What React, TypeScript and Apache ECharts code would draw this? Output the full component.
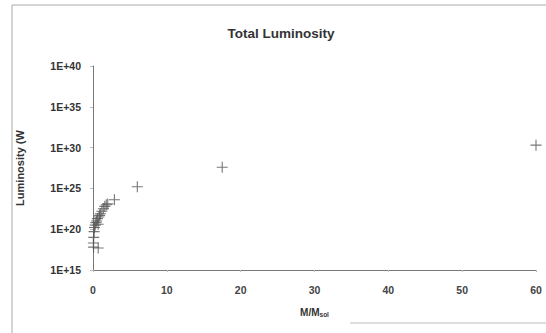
import React, { useEffect, useRef } from "react";
import * as echarts from "echarts";

// Mass in solar masses
const massValues: number[] = [
  0.05, 0.08, 0.7, 0.1, 0.15, 0.2, 0.3, 0.4, 0.5, 0.6, 0.7, 0.8, 0.9, 1.0,
  1.2, 1.4, 1.6, 1.8, 2.0, 2.9, 6.0, 17.5, 60,
];
// log10 of luminosity (W)
const logLumValues: number[] = [
  18.3, 17.8, 17.7, 19.0, 19.7, 20.2, 20.5, 20.8, 21.0, 21.3, 20.6, 21.5,
  21.7, 21.9, 22.2, 22.5, 22.8, 23.0, 23.1, 23.6, 25.2, 27.6, 30.3,
];
const xTicks = { min: 0, max: 60, interval: 10 };
const yExpRange = { min: 15, max: 40, step: 5 };

export default function App() {
  const ref = useRef<HTMLDivElement>(null);
  useEffect(() => {
    if (!ref.current) return;
    const chart = echarts.init(ref.current, null, { renderer: "svg" });
    const data = massValues.map((m, i) => [m, Math.pow(10, logLumValues[i])]);
    const font = "Liberation Sans, Arial, sans-serif";
    chart.setOption({
      animation: false,
      backgroundColor: "#fff",
      title: {
        text: "Total Luminosity",
        left: 276,
        top: 21,
        textAlign: "center",
        textStyle: { fontFamily: font, fontSize: 13.5, fontWeight: "bold", color: "#333" },
      },
      grid: { left: 93, right: 10, top: 66, bottom: 63 },
      xAxis: {
        type: "value",
        min: xTicks.min,
        max: xTicks.max,
        interval: xTicks.interval,
        name: "M/M{sub|sol}",
        nameLocation: "middle",
        nameGap: 37,
        nameTextStyle: {
          fontFamily: font,
          fontSize: 10,
          fontWeight: "bold",
          color: "#333",
          rich: { sub: { fontSize: 6.5, fontWeight: "bold", color: "#333", verticalAlign: "bottom", padding: [4, 0, 0, 0] } },
        },
        axisLine: { lineStyle: { color: "#777", width: 1 } },
        axisTick: { show: true, length: 2, lineStyle: { color: "#bbb" } },
        splitLine: { show: false },
        axisLabel: { fontFamily: font, fontSize: 10.5, fontWeight: "bold", color: "#444", margin: 14 },
      },
      yAxis: {
        type: "log",
        logBase: Math.pow(10, yExpRange.step),
        min: Math.pow(10, yExpRange.min),
        max: Math.pow(10, yExpRange.max),
        name: "Luminosity (W",
        nameLocation: "middle",
        nameGap: 68,
        nameTextStyle: { fontFamily: font, fontSize: 11, fontWeight: "bold", color: "#333" },
        axisLine: { show: true, lineStyle: { color: "#777", width: 1 } },
        axisTick: { show: true, length: 3, lineStyle: { color: "#bbb" } },
        splitLine: { show: false },
        axisLabel: {
          fontFamily: font,
          fontSize: 10.5,
          fontWeight: "bold",
          color: "#333",
          margin: 12,
          formatter: (v: number) => "1E+" + Math.round(Math.log10(v)),
        },
      },
      series: [
        {
          type: "scatter",
          data,
          symbol: "path://M4.5,0h1v4.5h4.5v1h-4.5v4.5h-1v-4.5h-4.5v-1h4.5z",
          symbolSize: 11,
          itemStyle: { color: "#555", opacity: 0.8 },
        },
      ],
      graphic: [
        { type: "line", shape: { x1: 12, y1: 5, x2: 546, y2: 5 }, style: { stroke: "#aaa", lineWidth: 1 } },
        { type: "line", shape: { x1: 12, y1: 5, x2: 12, y2: 333 }, style: { stroke: "#aaa", lineWidth: 1 } },
        { type: "line", shape: { x1: 350, y1: 323, x2: 546, y2: 323 }, style: { stroke: "#bbb", lineWidth: 1 } },
      ],
    });
    return () => chart.dispose();
  }, []);
  return (
    <div
      ref={ref}
      style={{ position: "absolute", left: 0, top: 0, width: 546, height: 333 }}
    />
  );
}
